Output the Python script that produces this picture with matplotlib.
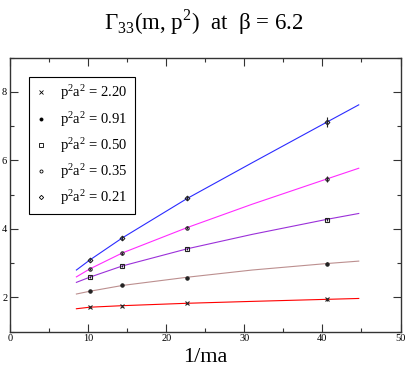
"""Gamma_33(m, p^2) at beta = 6.2 vs 1/ma, five p^2a^2 values with fit curves."""
import matplotlib; matplotlib.use("Agg")
import matplotlib.pyplot as plt
from matplotlib.lines import Line2D
from matplotlib.ticker import MultipleLocator

plt.rcParams["font.family"] = ["Liberation Serif", "DejaVu Serif"]
plt.rcParams["mathtext.fontset"] = "custom"
plt.rcParams["mathtext.rm"] = "Liberation Serif"

# data
inv_ma = [10.2, 14.4, 22.7, 40.6]
p2a2_labels = ["2.20", "0.91", "0.50", "0.35", "0.21"]
gamma_220 = [1.72, 1.755, 1.825, 1.94]
gamma_091 = [2.18, 2.35, 2.58, 2.98]
gamma_050 = [2.59, 2.92, 3.41, 4.27]
gamma_035 = [2.83, 3.29, 4.04, 5.45]
gamma_021 = [3.09, 3.74, 4.89, 7.12]
err_220 = [0.02, 0.02, 0.02, 0.03]
err_091 = [0.02, 0.02, 0.03, 0.04]
err_050 = [0.03, 0.03, 0.04, 0.05]
err_035 = [0.03, 0.04, 0.05, 0.09]
err_021 = [0.04, 0.05, 0.06, 0.15]

# fit curves
fit_x = [8.5, 10.2, 14.4, 22.7, 31.0, 40.6, 44.65]
fit_220 = [1.67, 1.715, 1.76, 1.83, 1.885, 1.945, 1.97]
fit_091 = [2.10, 2.18, 2.35, 2.59, 2.80, 2.99, 3.06]
fit_050 = [2.44, 2.59, 2.92, 3.42, 3.84, 4.28, 4.45]
fit_035 = [2.60, 2.83, 3.30, 4.04, 4.72, 5.46, 5.77]
fit_021 = [2.80, 3.09, 3.74, 4.89, 5.93, 7.12, 7.62]

series = [
    (gamma_220, err_220, fit_220, "#ff0000", "x"),
    (gamma_091, err_091, fit_091, "#bc8f8f", "o"),
    (gamma_050, err_050, fit_050, "#9b30d9", "s"),
    (gamma_035, err_035, fit_035, "#ff2bff", "o"),
    (gamma_021, err_021, fit_021, "#2b2bff", "D"),
]

fig = plt.figure(figsize=(4.07, 3.72), dpi=100)
ax = fig.add_axes([0.0246, 0.1083, 0.9595, 0.737])

for (g, e, f, c, m) in series:
    ax.plot(fit_x, f, color=c, lw=0.8, zorder=2)
    filled = c == "#bc8f8f"
    ax.errorbar(inv_ma, g, yerr=e, fmt=m, ms=2.4, mec="#222222", mew=0.8,
                mfc="#222222" if (filled or m == "x") else "none",
                ecolor="#222222", elinewidth=0.8, capsize=0, zorder=3)

handles = []
for lab, (g, e, f, c, m) in zip(p2a2_labels, series):
    fc = "black" if c == "#bc8f8f" else "none"
    handles.append(Line2D([], [], ls="none", marker=m, ms=2.2, mec="black", mew=0.6, mfc=fc,
                          label=r"$\mathregular{p^2a^2}$ = " + lab))
leg = ax.legend(handles=handles, loc="upper left", bbox_to_anchor=(0.0487, 0.929), borderaxespad=0,
                fontsize=10.5, frameon=True, fancybox=False, edgecolor="black", framealpha=1,
                handlelength=0.8, handletextpad=0.9, labelspacing=0.5, borderpad=0.45)
leg.get_frame().set_linewidth(0.8)

ax.set_xlim(0, 50); ax.set_ylim(1, 9)
ax.xaxis.set_major_locator(MultipleLocator(10)); ax.xaxis.set_minor_locator(MultipleLocator(5))
ax.yaxis.set_major_locator(MultipleLocator(2)); ax.yaxis.set_minor_locator(MultipleLocator(1))
ax.tick_params(which="both", direction="in", top=True, right=True, labelsize=7.5, width=0.8, colors="#333333",
               labelcolor="black")
ax.tick_params(which="major", length=5.5, pad=2)
ax.tick_params(which="minor", length=3)
for s in ax.spines.values():
    s.set_linewidth(1.0); s.set_color("#333333")

ax.set_xlabel("1/ma", fontsize=16, labelpad=3)
fig.text(0.5, 0.941, r"Γ$_\mathregular{33}$(m, p$^\mathregular{2}$)  at  β = 6.2", ha="center", va="center",
         fontsize=16.5)

fig.savefig("out.png", dpi=100)
